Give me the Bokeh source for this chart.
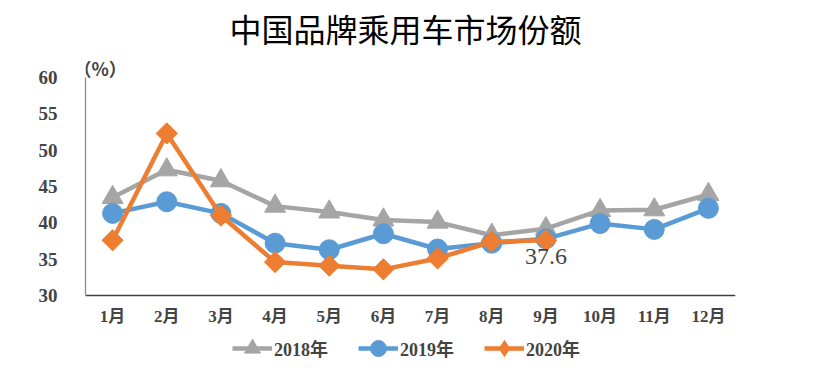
import numpy as np
from bokeh.plotting import figure
from bokeh.models import (Range1d, FixedTicker, Legend, LegendItem, Label)
from bokeh.embed import file_html
from bokeh.resources import INLINE

months = ["1月", "2月", "3月", "4月", "5月", "6月", "7月", "8月", "9月", "10月", "11月", "12月"]
s2018 = [43.5, 47.3, 45.8, 42.3, 41.5, 40.4, 40.1, 38.3, 39.2, 41.7, 41.8, 43.9]
s2019 = [41.3, 42.9, 41.3, 37.2, 36.3, 38.5, 36.4, 37.2, 37.8, 39.9, 39.1, 42.0]
s2020 = [37.6, 52.3, 41.0, 34.6, 34.1, 33.6, 35.1, 37.4, 37.6]
y_ticks = [30, 35, 40, 45, 50, 55, 60]
title_text = "中国品牌乘用车市场份额"
unit_text = "（%）"
callout_text = "37.6"

xpos = [i + 0.5 for i in range(len(months))]

p = figure(width=801, height=366, output_backend="svg", toolbar_location=None,
           x_range=Range1d(0, 12), y_range=Range1d(20.231, 70.596),
           min_border_left=85, min_border_right=66, min_border_top=0, min_border_bottom=0)
p.outline_line_color = None
p.xgrid.visible = False
p.ygrid.visible = False
p.background_fill_color = "white"

lbl_font = "Liberation Serif, Noto Sans CJK SC"

p.xaxis.fixed_location = 30
p.xaxis.ticker = FixedTicker(ticks=xpos)
p.xaxis.major_label_overrides = {x: m for x, m in zip(xpos, months)}
p.xaxis.major_tick_line_color = None
p.xaxis.minor_tick_line_color = None
p.xaxis.axis_line_color = "#404040"
p.xaxis.axis_line_width = 1.3
p.xaxis.major_label_text_font = lbl_font
p.xaxis.major_label_text_font_style = "bold"
p.xaxis.major_label_text_font_size = "17px"
p.xaxis.major_label_standoff = 5

p.yaxis.ticker = FixedTicker(ticks=y_ticks)
p.yaxis.bounds = (30, 60)
p.yaxis.major_tick_line_color = None
p.yaxis.minor_tick_line_color = None
p.yaxis.axis_line_color = "#8c8c8c"
p.yaxis.axis_line_width = 1.3
p.yaxis.major_label_text_font = lbl_font
p.yaxis.major_label_text_font_style = "bold"
p.yaxis.major_label_text_font_size = "19px"
p.yaxis.major_label_standoff = 22

c18, c19, c20 = "#A5A5A5", "#5B9BD5", "#ED7D31"

x20 = xpos[:len(s2020)]
l1 = p.line(xpos, s2018, line_color=c18, line_width=4.5)
m1 = p.scatter(xpos, s2018, marker="triangle", size=21, fill_color=c18, line_color=c18)
l2 = p.line(xpos, s2019, line_color=c19, line_width=4.5)
m2 = p.scatter(xpos, s2019, marker="circle", size=20, fill_color=c19, line_color=c19)
l3 = p.line(x20, s2020, line_color=c20, line_width=4.5)
# diamond glyph (used for the legend swatch), covered by the rotated square marker
d3 = p.scatter(x20, s2020, marker="diamond", size=20, fill_color=c20, line_color=c20)
m3 = p.scatter(x20, s2020, marker="square", size=15, angle=np.pi / 4,
               fill_color=c20, line_color=c20)

# chart title
p.add_layout(Label(x=6, y=66.88, x_offset=-5, text=title_text, text_font="Noto Sans CJK SC",
                   text_font_size="32px", text_baseline="middle", text_align="center",
                   text_color="#000000"))

p.add_layout(Label(x=0, y=61.3, x_offset=-12, text=unit_text, text_font="Noto Sans CJK SC",
                   text_font_style="bold", text_font_size="18px", text_baseline="middle",
                   text_align="left"))

p.add_layout(Label(x=x20[-1], y=s2020[-1], y_offset=-16, text=callout_text,
                   text_font="Liberation Serif", text_font_size="24px",
                   text_baseline="alphabetic", text_align="center"))

legend = Legend(items=[LegendItem(label="2018年", renderers=[l1, m1]),
                       LegendItem(label="2019年", renderers=[l2, m2]),
                       LegendItem(label="2020年", renderers=[l3, d3])],
                orientation="horizontal", location=(147, -2),
                glyph_width=40, glyph_height=40, label_standoff=2, spacing=30,
                padding=0, margin=0, border_line_color=None, background_fill_alpha=0,
                label_text_font=lbl_font, label_text_font_style="bold",
                label_text_font_size="18px")
p.add_layout(legend, "center")

open("out.html", "w").write(file_html(p, INLINE))
